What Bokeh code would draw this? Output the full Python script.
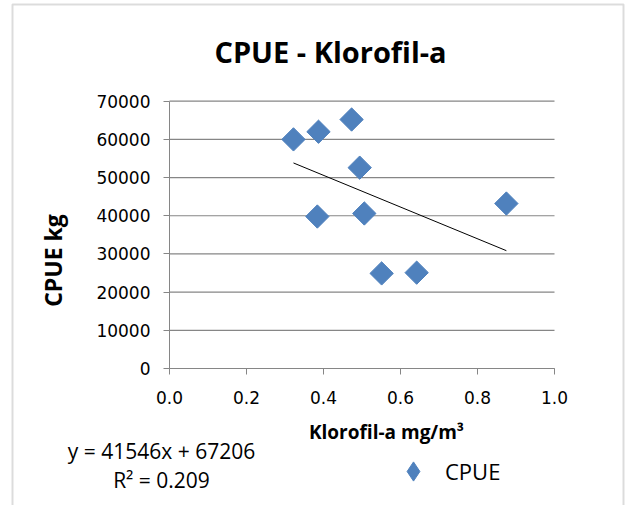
import math
from bokeh.plotting import figure
from bokeh.models import (Range1d, FixedTicker, BasicTickFormatter, PrintfTickFormatter,
                          Label, Legend, LegendItem, BoxAnnotation, LinearAxis)
from bokeh.embed import file_html
from bokeh.resources import INLINE

# ---- data ----
klorofil = [0.322, 0.387, 0.473, 0.494, 0.384, 0.506, 0.551, 0.642, 0.875]
cpue = [60000, 62000, 65200, 52600, 39800, 40600, 24900, 25100, 43200]
trend_slope = -41546
trend_intercept = 67206
x_ticks = [0.0, 0.2, 0.4, 0.6, 0.8, 1.0]
y_ticks = [0, 10000, 20000, 30000, 40000, 50000, 60000, 70000]

title_text = "CPUE - Klorofil-a"
x_title = "Klorofil-a mg/m³"
y_title = "CPUE kg"
eq_text = "y = 41546x + 67206"
r2_text = "R² = 0.209"
series_name = "CPUE"

BLUE = "#4F81BD"
GRAY = "#868686"

# ---- layout in pixels (plot area inside the canvas) ----
W, H = 625, 505
PX_LEFT, PX_RIGHT = 169.0, 554.0     # x = 0 and x = 1
PX_BOTTOM, PX_TOP = 368.0, 100.7     # y = 0 and y = 70000
xmin, xmax = x_ticks[0], x_ticks[-1]
ymin, ymax = y_ticks[0], y_ticks[-1]
sx = (xmax - xmin) / (PX_RIGHT - PX_LEFT)
sy = (ymax - ymin) / (PX_BOTTOM - PX_TOP)

def dx(px):
    return xmin + (px - PX_LEFT) * sx

def dy(py):
    return ymin + (PX_BOTTOM - py) * sy

p = figure(width=W, height=H, output_backend="svg", toolbar_location=None,
           x_range=Range1d(dx(0), dx(W)), y_range=Range1d(dy(H), dy(0)),
           x_axis_location=None, y_axis_location=None,
           min_border=0, min_border_left=0, min_border_right=0,
           min_border_top=0, min_border_bottom=0)
p.outline_line_color = None
p.background_fill_color = "white"
p.border_fill_color = "white"
p.xgrid.visible = False
p.ygrid.visible = False

# horizontal gridlines across the plot area
p.segment(x0=xmin, x1=xmax, y0=y_ticks, y1=y_ticks, line_color=GRAY, line_width=1.2)

# axes fixed at the origin
xaxis = LinearAxis(fixed_location=ymin, bounds=(xmin, xmax),
                   ticker=FixedTicker(ticks=x_ticks),
                   formatter=PrintfTickFormatter(format="%.1f"))
yaxis = LinearAxis(fixed_location=xmin, bounds=(ymin, ymax),
                   ticker=FixedTicker(ticks=y_ticks),
                   formatter=BasicTickFormatter(use_scientific=False))
for ax in (xaxis, yaxis):
    ax.axis_line_color = GRAY
    ax.major_tick_line_color = GRAY
    ax.minor_tick_line_color = None
    ax.major_tick_in = 0
    ax.major_tick_out = 6
    ax.major_label_text_color = "black"
    ax.major_label_text_font = "DejaVu Sans"
xaxis.major_label_text_font_size = "17px"
xaxis.major_label_standoff = 16
yaxis.major_label_text_font_size = "17px"
yaxis.major_label_standoff = 13
p.add_layout(xaxis, "below")
p.add_layout(yaxis, "left")

# trendline from the fitted coefficients
x0, x1 = min(klorofil), max(klorofil)
p.line([x0, x1], [trend_slope * x0 + trend_intercept, trend_slope * x1 + trend_intercept],
       line_color="black", line_width=1)

pts = p.scatter(klorofil, cpue, marker="square", angle=math.pi / 4, size=16.5,
                fill_color=BLUE, line_color=BLUE)

# legend swatch (diamond marker; its single point is NaN so it only shows in the legend)
swatch = p.scatter(x=[float("nan")], y=[float("nan")], marker="diamond", size=20,
                   fill_color=BLUE, line_color=BLUE)

legend = Legend(items=[LegendItem(label=series_name, renderers=[swatch], index=0)],
                location=(389, 10), padding=0, margin=0, border_line_color=None,
                background_fill_alpha=0, glyph_width=48, glyph_height=48,
                label_height=48, label_standoff=8,
                label_text_color="black",
                label_text_font="Open Sans", label_text_font_size="22px")
p.add_layout(legend, "center")

# texts
def lab(px, py, t, size, bold=False, angle=0, align="center", baseline="alphabetic"):
    p.add_layout(Label(x=dx(px), y=dy(py), text=t, text_font="Open Sans", text_font_size=size,
                       text_font_style="bold" if bold else "normal", angle=angle,
                       text_align=align, text_baseline=baseline, text_color="black"))

lab(330, 51, title_text, "29px", bold=True)
lab(386, 431, x_title, "19px", bold=True)
lab(52, 260, y_title, "23px", bold=True, angle=math.pi / 2)
lab(161, 450, eq_text, "21px")
lab(161, 479, r2_text, "21px")

# chart border
p.add_layout(BoxAnnotation(left=dx(12), right=dx(W - 2), top=dy(4), bottom=dy(H + 20),
                           fill_alpha=0, line_color="#8C8C8C", line_width=2))

open("out.html", "w").write(file_html(p, INLINE))
